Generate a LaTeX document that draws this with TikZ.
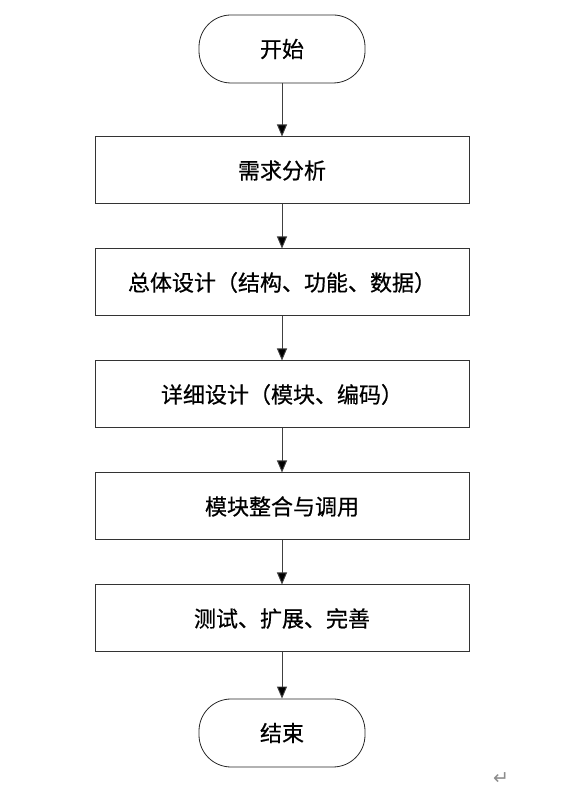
\documentclass[tikz,border=0pt]{standalone}
\usepackage{fontspec}
\newfontfamily\cjk[FakeBold=0.6]{Noto Sans CJK SC}
\newfontfamily\dejavu{DejaVu Sans}
\usetikzlibrary{arrows.meta}
\begin{document}
\begin{tikzpicture}[x=1pt,y=1pt,
  term/.style={draw=black!85,line width=0.8pt,rounded corners=32pt,minimum width=166pt,minimum height=68pt,inner sep=0pt,font=\cjk\fontsize{22}{25}\selectfont},
  stepbox/.style={draw=black!80,line width=1pt,minimum width=374pt,minimum height=67pt,inner sep=0pt,font=\cjk\fontsize{22}{25}\selectfont},
  conn/.style={draw=black!75,line width=0.9pt,-{Triangle[length=12pt,width=10pt,fill=black]}}]
\useasboundingbox (0,0) rectangle (575,794);
\node[term] (start) at (282,794-49) {开始};
\node[stepbox] (s1) at (282,794-170.5) {需求分析};
\node[stepbox] (s2) at (282,794-282.5) {总体设计（结构、功能、数据）};
\node[stepbox] (s3) at (282,794-394.5) {详细设计（模块、编码）};
\node[stepbox] (s4) at (282,794-506.5) {模块整合与调用};
\node[stepbox] (s5) at (282,794-618.5) {测试、扩展、完善};
\node[term] (end) at (282,794-733) {结束};
\draw[conn] (start) -- (s1);
\draw[conn] (s1) -- (s2);
\draw[conn] (s2) -- (s3);
\draw[conn] (s3) -- (s4);
\draw[conn] (s4) -- (s5);
\draw[conn] (s5) -- (end);
\node[text=black!45,font=\dejavu\fontsize{19}{21}\selectfont] (ret) at (501,794-779) {↵};
\end{tikzpicture}
\end{document}
